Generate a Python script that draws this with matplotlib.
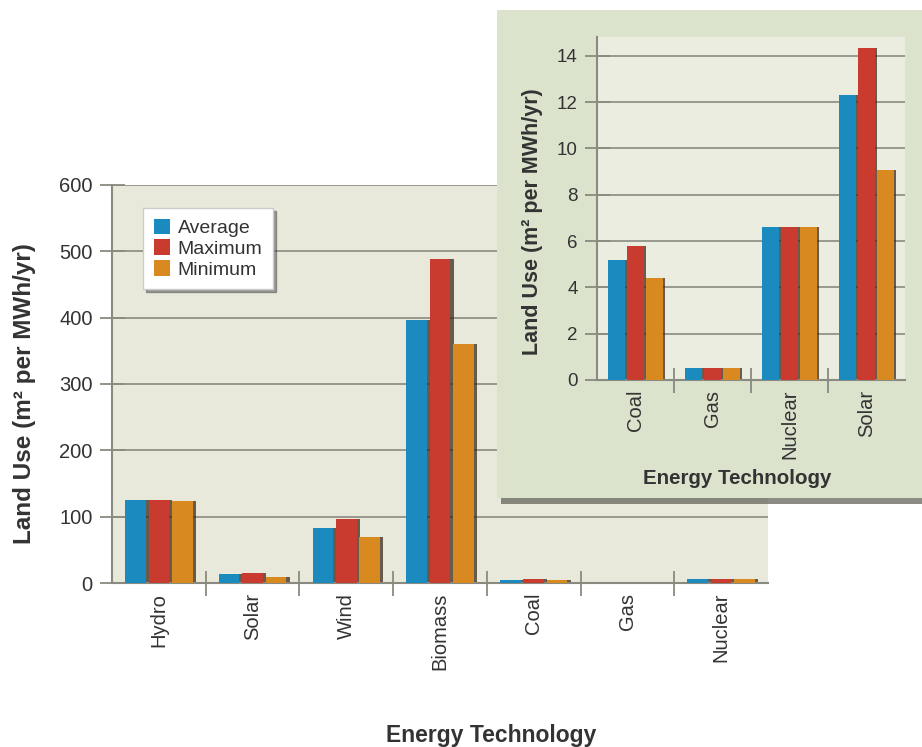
import numpy as np
import matplotlib
matplotlib.use("Agg")
import matplotlib.pyplot as plt
from matplotlib.patches import Rectangle

plt.rcParams['font.family'] = ['Liberation Sans', 'DejaVu Sans']

# main chart data (m2 per MWh/yr)
techs = ["Hydro", "Solar", "Wind", "Biomass", "Coal", "Gas", "Nuclear"]
avg_main = [125, 13.5, 83, 396, 5.2, 0.5, 6.6]
max_main = [125, 15.5, 96, 488, 5.8, 0.5, 6.6]
min_main = [123, 9.5, 69, 360, 4.4, 0.5, 6.6]

# inset data
techs_inset = ["Coal", "Gas", "Nuclear", "Solar"]
avg_inset = [5.2, 0.5, 6.6, 12.3]
max_inset = [5.8, 0.5, 6.6, 14.35]
min_inset = [4.4, 0.5, 6.6, 9.05]

series_names = ["Average", "Maximum", "Minimum"]
colors = ["#1b8bbf", "#c93a2f", "#d8891f"]
shadow_col = "#3b2b1c"
grid_col = "#8a8a80"
text_col = "#333333"


def draw_bars(ax, cats, series, width, step, shift):
    x = np.arange(len(cats))
    for i, vals in enumerate(series):
        off = (i - 1) * step
        ax.bar(x + off + shift, vals, width, color=shadow_col, alpha=0.75,
               zorder=2, linewidth=0)
        ax.bar(x + off, vals, width, color=colors[i], zorder=3,
               linewidth=0, label=series_names[i])


def style_axes(ax, cats, ymax, yticks, face, tick_fs, cat_fs):
    ax.set_facecolor(face)
    ax.set_xlim(-0.5, len(cats) - 0.5)
    ax.set_ylim(0, ymax)
    ax.set_yticks(yticks)
    ax.set_xticks(np.arange(len(cats)))
    ax.set_xticklabels(cats, rotation=90, fontsize=cat_fs, color=text_col)
    ax.set_xticks(np.arange(len(cats) - 1) + 0.5, minor=True)
    ax.tick_params(axis='x', which='major', length=0, pad=7)
    ax.tick_params(axis='x', which='minor', direction='inout', length=18,
                   width=1.3, color=grid_col)
    ax.tick_params(axis='y', direction='inout', length=18, width=1.3,
                   color=grid_col, labelsize=tick_fs, labelcolor=text_col,
                   pad=5)
    ax.grid(axis='y', color=grid_col, linewidth=1.2)
    ax.set_axisbelow(True)
    for s in ["top", "right"]:
        ax.spines[s].set_visible(False)
    for s in ["left", "bottom"]:
        ax.spines[s].set_color(grid_col)
        ax.spines[s].set_linewidth(1.5)


fig = plt.figure(figsize=(9.22, 7.47), dpi=100)

# main chart
ax = fig.add_axes([0.1215, 0.2195, 0.7115, 0.533], zorder=0)
draw_bars(ax, techs, [avg_main, max_main, min_main], 0.22, 0.25, 0.035)
style_axes(ax, techs, 600, np.arange(0, 601, 100), "#e8e9da", 14.5, 14.5)
leg = ax.legend(loc="upper left", bbox_to_anchor=(0.047, 0.942), fontsize=14,
                frameon=True, fancybox=False, shadow=True, handlelength=0.85,
                handleheight=0.85, handletextpad=0.4, labelspacing=0.12,
                borderpad=0.55, borderaxespad=0)
leg.get_frame().set_edgecolor("#cccccc")
for t in leg.get_texts():
    t.set_color(text_col)

fig.text(0.027, 0.473, "Land Use (m² per MWh/yr)", rotation=90, ha="center",
         va="center", fontsize=17.5, fontweight="bold", color=text_col)
fig.text(0.533, 0.015, "Energy Technology", ha="center", va="center",
         fontsize=16.5, fontweight="bold", color=text_col)

# inset panel with shadow
shadow = Rectangle((0.543, 0.325), 0.5, 0.66, transform=fig.transFigure,
                   facecolor="#6d6f66", edgecolor="none", zorder=1, alpha=0.8)
panel = Rectangle((0.539, 0.333), 0.5, 0.654, transform=fig.transFigure,
                  facecolor="#dbe3cd", edgecolor="none", zorder=1.1)
fig.patches.extend([shadow, panel])

axi = fig.add_axes([0.6475, 0.4913, 0.3341, 0.4587], zorder=2)
draw_bars(axi, techs_inset, [avg_inset, max_inset, min_inset], 0.22, 0.245,
          0.03)
style_axes(axi, techs_inset, 14.8, np.arange(0, 15, 2), "#eaede0", 13.5, 14.5)

fig.text(0.578, 0.703, "Land Use (m² per MWh/yr)", rotation=90, ha="center",
         va="center", fontsize=15.5, fontweight="bold", color=text_col,
         zorder=3)
fig.text(0.80, 0.36, "Energy Technology", ha="center", va="center",
         fontsize=14.8, fontweight="bold", color=text_col, zorder=3)

fig.savefig("out.png", dpi=100, facecolor="white")
